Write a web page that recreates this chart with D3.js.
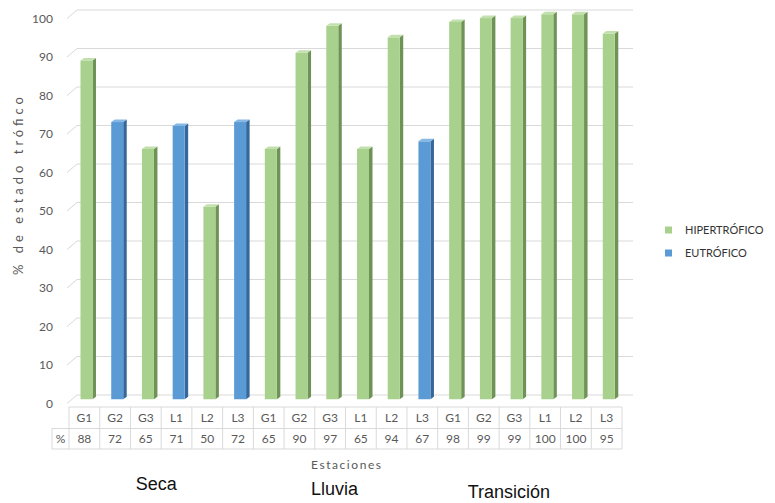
<!DOCTYPE html>
<html>
<head>
<meta charset="utf-8">
<script src="https://cdn.jsdelivr.net/npm/d3@7"></script>
<style>
  html, body { margin: 0; padding: 0; background: #ffffff; }
  svg { display: block; }
</style>
</head>
<body>
<svg id="chart" width="775" height="503"></svg>
<script>
// Trophic state per sampling station and season
const seasons = ["Seca", "Lluvia", "Transición"];
const stations = ["G1", "G2", "G3", "L1", "L2", "L3"];
const secaValues = [88, 72, 65, 71, 50, 72];
const lluviaValues = [65, 90, 97, 65, 94, 67];
const transicionValues = [98, 99, 99, 100, 100, 95];
const secaStates = ["HIPERTRÓFICO", "EUTRÓFICO", "HIPERTRÓFICO", "EUTRÓFICO", "HIPERTRÓFICO", "EUTRÓFICO"];
const lluviaStates = ["HIPERTRÓFICO", "HIPERTRÓFICO", "HIPERTRÓFICO", "HIPERTRÓFICO", "HIPERTRÓFICO", "EUTRÓFICO"];
const transicionStates = ["HIPERTRÓFICO", "HIPERTRÓFICO", "HIPERTRÓFICO", "HIPERTRÓFICO", "HIPERTRÓFICO", "HIPERTRÓFICO"];
const stateNames = ["HIPERTRÓFICO", "EUTRÓFICO"];
const yTicks = [0, 10, 20, 30, 40, 50, 60, 70, 80, 90, 100];

const valuesBySeason = [secaValues, lluviaValues, transicionValues];
const statesBySeason = [secaStates, lluviaStates, transicionStates];
const rows = [];
seasons.forEach((s, si) => {
  stations.forEach((st, i) => {
    rows.push({ season: s, station: st, value: valuesBySeason[si][i], state: statesBySeason[si][i] });
  });
});

const svg = d3.select("#chart");
const font = "Lato, 'Open Sans', sans-serif";
const gridColor = "#d9d9d9";
const textColor = "#595959";

// Plot layout (pseudo-3D: a back wall offset up-right of the front plane)
const left = 69, right = 622;
const depthX = 5, depthY = 4.25;          // half of the wall depth
const x = d3.scaleBand().domain(d3.range(rows.length)).range([left, right]).padding(0);
const y = d3.scaleLinear().domain([0, 100]).range([399.25, 14.25]); // mid-depth plane

const frontFill = d3.scaleOrdinal().domain(stateNames).range(["#a9d18e", "#5b9bd5"]);
const sideFill = d3.scaleOrdinal().domain(stateNames).range(["#6f9256", "#35679a"]);
const topFill = d3.scaleOrdinal().domain(stateNames).range(["#c2e0ad", "#86b8e6"]);

// Back wall gridlines with the slanted left wall ticks
const backLeft = left + 8, backRight = 633;
const grid = svg.append("g");
yTicks.forEach(t => {
  const yb = y(t) - depthY, yf = y(t) + depthY;
  grid.append("line").attr("x1", backLeft).attr("x2", backRight).attr("y1", yb).attr("y2", yb)
    .attr("stroke", gridColor).attr("stroke-width", 1);
  grid.append("line").attr("x1", backLeft - 2 * depthX).attr("x2", backLeft).attr("y1", yf).attr("y2", yb)
    .attr("stroke", gridColor).attr("stroke-width", 1);
});

// Y tick labels
svg.append("g").selectAll("text").data(yTicks).join("text")
  .attr("x", 53).attr("y", d => y(d) + depthY)
  .attr("dy", "0.35em").attr("text-anchor", "end")
  .attr("font-family", font).attr("font-size", 12).attr("fill", textColor)
  .text(d => d);

// Y axis title
svg.append("text")
  .attr("transform", "translate(23,186) rotate(-90)")
  .attr("text-anchor", "middle")
  .attr("font-family", font).attr("font-size", 13).attr("fill", textColor)
  .attr("textLength", 178).attr("lengthAdjust", "spacing")
  .text("% de estado trófico");

// 3D columns
const barOffset = 11.5, barW = 12, sideW = 3.5, topH = 2.5;
const bars = svg.append("g").selectAll("g").data(rows).join("g");
bars.append("polygon")
  .attr("points", (d, i) => {
    const x0 = x(i) + barOffset + barW, yv = y(d.value), y0 = y(0);
    return [[x0, yv], [x0 + sideW, yv - topH], [x0 + sideW, y0 - topH], [x0, y0]].join(" ");
  })
  .attr("fill", d => sideFill(d.state));
bars.append("rect")
  .attr("x", (d, i) => x(i) + barOffset)
  .attr("y", d => y(d.value))
  .attr("width", barW)
  .attr("height", d => y(0) - y(d.value))
  .attr("fill", d => frontFill(d.state));
bars.append("polygon")
  .attr("points", (d, i) => {
    const x0 = x(i) + barOffset, yv = y(d.value);
    return [[x0, yv], [x0 + sideW, yv - topH], [x0 + barW + sideW, yv - topH], [x0 + barW, yv]].join(" ");
  })
  .attr("fill", d => topFill(d.state));

// Data table beneath the plot
const tTop = 407, tMid = 428.5, tBot = 449, tLeft = 52;
const table = svg.append("g").attr("stroke", gridColor).attr("stroke-width", 1);
table.append("line").attr("x1", left).attr("x2", right).attr("y1", tTop).attr("y2", tTop);
table.append("line").attr("x1", tLeft).attr("x2", right).attr("y1", tMid).attr("y2", tMid);
table.append("line").attr("x1", tLeft).attr("x2", right).attr("y1", tBot).attr("y2", tBot);
table.append("line").attr("x1", tLeft).attr("x2", tLeft).attr("y1", tMid).attr("y2", tBot);
table.selectAll(".col").data(d3.range(rows.length + 1)).join("line")
  .attr("x1", i => left + i * x.bandwidth()).attr("x2", i => left + i * x.bandwidth())
  .attr("y1", tTop).attr("y2", tBot);

const tText = svg.append("g").attr("font-family", font).attr("font-size", 12)
  .attr("fill", textColor).attr("text-anchor", "middle");
tText.selectAll(".st").data(rows).join("text")
  .attr("x", (d, i) => x(i) + x.bandwidth() / 2).attr("y", (tTop + tMid) / 2).attr("dy", "0.35em")
  .text(d => d.station);
tText.selectAll(".val").data(rows).join("text")
  .attr("x", (d, i) => x(i) + x.bandwidth() / 2).attr("y", (tMid + tBot) / 2).attr("dy", "0.35em")
  .text(d => d.value);
tText.append("text").attr("x", (tLeft + left) / 2).attr("y", (tMid + tBot) / 2).attr("dy", "0.35em").text("%");

// X axis title
svg.append("text")
  .attr("x", 346).attr("y", 465).attr("dy", "0.35em").attr("text-anchor", "middle")
  .attr("font-family", font).attr("font-size", 12).attr("fill", textColor)
  .attr("textLength", 70).attr("lengthAdjust", "spacing")
  .text("Estaciones");

// Season labels under each group of six stations
const groupW = x.bandwidth() * stations.length;
const seasonShift = [[-5, 490], [-11, 495], [-21, 498]];
svg.append("g").selectAll("text").data(seasons).join("text")
  .attr("x", (d, i) => left + groupW * (i + 0.5) + seasonShift[i][0])
  .attr("y", (d, i) => seasonShift[i][1])
  .attr("text-anchor", "middle")
  .attr("font-family", "'Liberation Sans', Arial, sans-serif").attr("font-size", 18)
  .attr("fill", "#111111")
  .text(d => d);

// Legend
const legend = svg.append("g").selectAll("g").data(stateNames).join("g")
  .attr("transform", (d, i) => `translate(665,${230 + i * 23})`);
legend.append("rect").attr("x", 0).attr("y", -3.5).attr("width", 7).attr("height", 7)
  .attr("fill", d => frontFill(d));
legend.append("text").attr("x", 20).attr("y", 0).attr("dy", "0.35em")
  .attr("font-family", font).attr("font-size", 11).attr("fill", "#333333")
  .text(d => d);
</script>
</body>
</html>
